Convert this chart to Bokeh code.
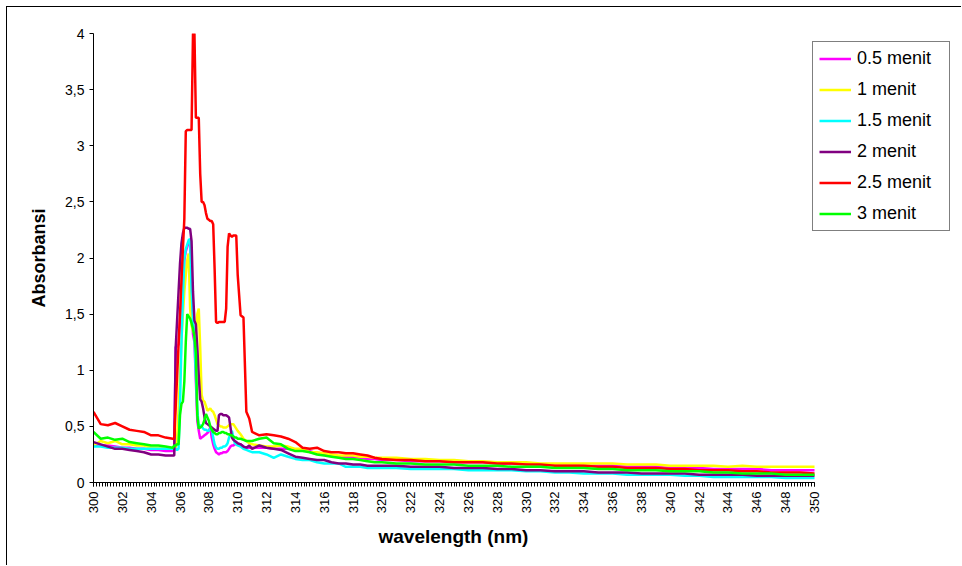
import numpy as np
from bokeh.plotting import figure
from bokeh.models import Range1d, FixedTicker, Legend, LegendItem, CustomJSTickFormatter, Title
from bokeh.embed import file_html
from bokeh.resources import INLINE

# wavelength grid (nm)
wavelength = [round(float(v), 1) for v in
              list(np.arange(300.0, 305.51, 0.5)) + list(np.arange(305.6, 310.01, 0.1)) +
              list(np.arange(310.2, 311.01, 0.2)) + list(np.arange(311.5, 320.01, 0.5)) +
              list(np.arange(321, 350.01, 1))]

series_names = ["0.5 menit", "1 menit", "1.5 menit", "2 menit", "2.5 menit", "3 menit"]
series_colors = ["#FF00FF", "#FFFF00", "#00FFFF", "#800080", "#FF0000", "#00FF00"]

abs_05 = [0.33, 0.33, 0.33, 0.32, 0.31, 0.31, 0.30, 0.30, 0.29, 0.29, 0.28, 0.28,
          0.28, 1.21, 1.21, 1.23, 1.45, 1.60, 1.70, 1.98, 2.06, 2.10, 2.14, 2.15, 1.60, 1.32, 1.25,
          0.90, 0.55, 0.46, 0.39, 0.40, 0.41, 0.42, 0.43, 0.44, 0.46, 0.49, 0.40, 0.34, 0.30, 0.27,
          0.26, 0.25, 0.26, 0.26, 0.27, 0.27, 0.27, 0.28, 0.30, 0.32, 0.33, 0.33, 0.34, 0.34, 0.34,
          0.34, 0.32, 0.31, 0.31, 0.31,
          0.31, 0.31, 0.30, 0.30, 0.30, 0.29, 0.29, 0.28, 0.26, 0.25, 0.24, 0.23, 0.23, 0.23, 0.22,
          0.21, 0.21, 0.20,
          0.20, 0.19, 0.19, 0.19, 0.18, 0.18, 0.18, 0.17, 0.17, 0.17, 0.16, 0.16, 0.16, 0.15, 0.15,
          0.15, 0.14, 0.14, 0.14, 0.13, 0.13, 0.13, 0.12, 0.12, 0.12, 0.12, 0.11, 0.11, 0.11, 0.11]

abs_1 = [0.33, 0.37, 0.35, 0.37, 0.34, 0.34, 0.33, 0.33, 0.31, 0.31, 0.30, 0.30,
         0.30, 0.30, 0.40, 0.65, 0.95, 1.27, 1.50, 1.70, 1.85, 1.98, 2.04, 1.55, 1.40, 1.35, 1.33,
         1.32, 1.50, 1.55, 1.20, 0.78, 0.73, 0.72, 0.68, 0.64, 0.65, 0.66, 0.64, 0.63, 0.60, 0.56,
         0.52, 0.51, 0.50, 0.50, 0.49, 0.49, 0.49, 0.50, 0.51, 0.52, 0.52, 0.52, 0.50, 0.48, 0.46,
         0.43, 0.39, 0.37, 0.35, 0.34,
         0.33, 0.32, 0.32, 0.33, 0.32, 0.30, 0.30, 0.27, 0.27, 0.26, 0.25, 0.24, 0.24, 0.24, 0.23,
         0.23, 0.22, 0.22,
         0.22, 0.21, 0.21, 0.20, 0.20, 0.19, 0.19, 0.18, 0.18, 0.18, 0.17, 0.17, 0.17, 0.17, 0.17,
         0.17, 0.16, 0.16, 0.16, 0.15, 0.15, 0.15, 0.15, 0.14, 0.15, 0.14, 0.14, 0.14, 0.14, 0.14]

abs_15 = [0.32, 0.32, 0.31, 0.31, 0.31, 0.30, 0.30, 0.30, 0.30, 0.30, 0.30, 0.30,
          0.30, 0.30, 0.29, 0.30, 0.70, 1.24, 1.65, 2.00, 2.08, 2.12, 2.16, 2.17, 1.70, 1.45, 1.30,
          0.95, 0.65, 0.49, 0.51, 0.50, 0.48, 0.47, 0.47, 0.46, 0.46, 0.48, 0.49, 0.40, 0.34, 0.31,
          0.30, 0.30, 0.31, 0.31, 0.32, 0.32, 0.33, 0.35, 0.40, 0.43, 0.46, 0.40, 0.35, 0.34, 0.33,
          0.32, 0.30, 0.29, 0.28, 0.27,
          0.27, 0.25, 0.22, 0.25, 0.23, 0.21, 0.20, 0.20, 0.18, 0.17, 0.17, 0.17, 0.14, 0.14, 0.14,
          0.13, 0.13, 0.13,
          0.13, 0.12, 0.12, 0.12, 0.12, 0.11, 0.11, 0.11, 0.11, 0.10, 0.10, 0.09, 0.09, 0.08, 0.08,
          0.08, 0.07, 0.07, 0.07, 0.07, 0.06, 0.06, 0.05, 0.05, 0.05, 0.05, 0.05, 0.04, 0.04, 0.04]

abs_2 = [0.36, 0.34, 0.32, 0.30, 0.30, 0.29, 0.28, 0.27, 0.25, 0.25, 0.24, 0.24,
         0.24, 1.20, 1.45, 1.70, 1.95, 2.13, 2.22, 2.27, 2.27, 2.27, 2.26, 2.26, 2.15, 1.70, 1.44,
         1.41, 1.20, 0.95, 0.74, 0.72, 0.66, 0.58, 0.53, 0.52, 0.51, 0.50, 0.49, 0.48, 0.47, 0.46,
         0.46, 0.60, 0.61, 0.61, 0.60, 0.60, 0.60, 0.59, 0.58, 0.49, 0.40, 0.38, 0.37, 0.36, 0.35,
         0.34, 0.32, 0.31, 0.33, 0.30,
         0.33, 0.31, 0.30, 0.29, 0.26, 0.23, 0.22, 0.21, 0.20, 0.20, 0.18, 0.17, 0.17, 0.16, 0.16,
         0.15, 0.15, 0.15,
         0.15, 0.14, 0.14, 0.14, 0.13, 0.13, 0.13, 0.12, 0.12, 0.11, 0.11, 0.10, 0.10, 0.10, 0.09,
         0.09, 0.09, 0.08, 0.08, 0.08, 0.08, 0.07, 0.07, 0.07, 0.07, 0.06, 0.06, 0.06, 0.06, 0.06]

abs_25 = [0.63, 0.52, 0.51, 0.53, 0.50, 0.47, 0.46, 0.45, 0.42, 0.42, 0.40, 0.39,
          0.39, 0.67, 0.95, 1.23, 1.50, 1.80, 2.08, 2.35, 3.13, 3.14, 3.14, 3.14, 3.14, 4.00, 4.00,
          3.25, 3.25, 3.25, 2.75, 2.50, 2.50, 2.47, 2.40, 2.35, 2.34, 2.33, 2.33, 2.30, 1.90, 1.43,
          1.42, 1.43, 1.43, 1.43, 1.43, 1.43, 1.55, 2.10, 2.22, 2.20, 2.19, 2.20, 2.20, 2.20, 1.85,
          1.49, 1.47, 0.63, 0.57, 0.45,
          0.42, 0.43, 0.42, 0.41, 0.39, 0.36, 0.31, 0.30, 0.31, 0.28, 0.27, 0.27, 0.26, 0.26, 0.25,
          0.24, 0.22, 0.21,
          0.20, 0.20, 0.19, 0.19, 0.18, 0.18, 0.18, 0.17, 0.17, 0.16, 0.16, 0.15, 0.15, 0.15, 0.14,
          0.14, 0.13, 0.13, 0.13, 0.12, 0.12, 0.11, 0.11, 0.11, 0.10, 0.10, 0.09, 0.09, 0.09, 0.08]

abs_3 = [0.45, 0.39, 0.40, 0.38, 0.39, 0.36, 0.35, 0.34, 0.33, 0.33, 0.32, 0.31,
         0.33, 0.33, 0.34, 0.34, 0.60, 0.70, 0.72, 0.90, 1.25, 1.50, 1.48, 1.46, 1.42, 1.37, 1.30,
         1.15, 0.60, 0.48, 0.49, 0.50, 0.52, 0.56, 0.61, 0.58, 0.55, 0.50, 0.47, 0.45, 0.44, 0.43,
         0.43, 0.44, 0.44, 0.45, 0.45, 0.44, 0.44, 0.43, 0.43, 0.42, 0.42, 0.41, 0.40, 0.40, 0.39,
         0.39, 0.38, 0.37, 0.37, 0.37,
         0.39, 0.40, 0.35, 0.34, 0.30, 0.28, 0.28, 0.27, 0.25, 0.24, 0.23, 0.22, 0.21, 0.21, 0.20,
         0.19, 0.18, 0.18,
         0.17, 0.17, 0.16, 0.16, 0.16, 0.15, 0.15, 0.15, 0.14, 0.14, 0.14, 0.13, 0.13, 0.13, 0.12,
         0.12, 0.11, 0.11, 0.11, 0.10, 0.10, 0.10, 0.09, 0.09, 0.08, 0.08, 0.08, 0.07, 0.07, 0.07]

series_values = [abs_05, abs_1, abs_15, abs_2, abs_25, abs_3]

y_ticks = [0, 0.5, 1, 1.5, 2, 2.5, 3, 3.5, 4]
x_ticks = list(range(300, 351, 2))
x_minor = [round(float(v), 1) for v in np.arange(300, 350.01, 0.2)]

FONT = "Liberation Sans"

# frame spans x = 93..950 px; the data axis (300..350 nm) covers 93..814 px,
# the remainder holds the legend
X_END = 300 + 50 * (950 - 93) / (814 - 93)

p = figure(width=955, height=559, x_range=Range1d(300, X_END), y_range=Range1d(0, 4),
           output_backend="svg", toolbar_location=None,
           min_border_left=86, min_border_right=12, min_border_top=26, min_border_bottom=84)
p.margin = (6, 0, 0, 6)
p.styles = {"border-left": "1px solid #000000", "border-top": "1px solid #000000"}
p.outline_line_color = None
p.xgrid.grid_line_color = None
p.ygrid.grid_line_color = None
p.background_fill_color = "white"
p.border_fill_color = "white"

items = []
for name, color, vals in zip(series_names, series_colors, series_values):
    r = p.line(wavelength, vals, line_color=color, line_width=2.5)
    items.append(LegendItem(label=name, renderers=[r]))

# axes
p.xaxis.bounds = (300, 350)
p.xaxis.ticker = FixedTicker(ticks=x_ticks, minor_ticks=x_minor)
p.xaxis.major_label_orientation = np.pi / 2
p.xaxis.major_label_text_font = FONT
p.xaxis.major_label_text_font_size = "13px"
p.xaxis.major_label_text_color = "black"
p.xaxis.major_label_standoff = 5
p.xaxis.major_tick_in = 0
p.xaxis.major_tick_out = 4
p.xaxis.minor_tick_in = 0
p.xaxis.minor_tick_out = 4

# x-axis title, centred under the 300..350 nm axis (not under the whole frame)
x_title = Title(text="wavelength (nm)", align="left", offset=285, standoff=15,
                text_font=FONT, text_font_size="19px", text_font_style="bold",
                text_color="black")
p.add_layout(x_title, "below")

p.yaxis.ticker = FixedTicker(ticks=y_ticks, minor_ticks=[])
p.yaxis.formatter = CustomJSTickFormatter(code="return tick.toString().replace('.', ',');")
p.yaxis.major_label_text_font = FONT
p.yaxis.major_label_text_font_size = "14px"
p.yaxis.major_label_text_color = "black"
p.yaxis.major_label_standoff = 5
p.yaxis.major_tick_in = 0
p.yaxis.major_tick_out = 4
p.yaxis.minor_tick_line_color = None
p.yaxis.axis_label = "Absorbansi"
p.yaxis.axis_label_text_font = FONT
p.yaxis.axis_label_text_font_size = "18px"
p.yaxis.axis_label_text_font_style = "bold"
p.yaxis.axis_label_text_color = "black"
p.yaxis.axis_label_standoff = 13

for ax in (p.xaxis, p.yaxis):
    ax.axis_line_color = "black"
    ax.axis_line_width = 1
    ax.major_tick_line_color = "black"
p.xaxis.minor_tick_line_color = "black"

legend = Legend(items=items, location=(719, 251))
legend.border_line_color = "black"
legend.border_line_width = 1
legend.background_fill_color = "white"
legend.background_fill_alpha = 1
legend.padding = 6
legend.spacing = 10
legend.margin = 0
legend.label_standoff = 6
legend.label_width = 86
legend.glyph_width = 32
legend.glyph_height = 21
legend.label_height = 21
legend.label_text_font = FONT
legend.label_text_font_size = "18px"
legend.label_text_color = "black"
p.add_layout(legend)

open("out.html", "w").write(file_html(p, INLINE))
